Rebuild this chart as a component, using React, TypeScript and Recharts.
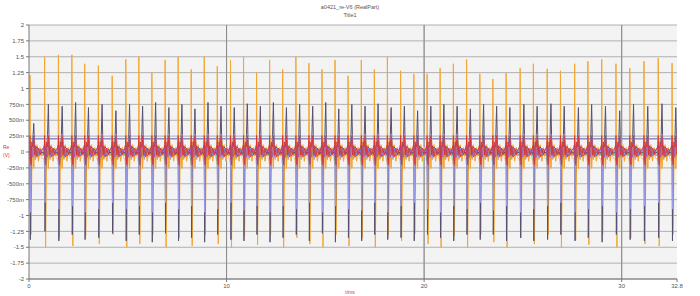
import React from 'react';
import { LineChart, Line, XAxis, YAxis, CartesianGrid, ReferenceLine } from 'recharts';

// time of each spike burst (ms)
const spikeTimes = [
  0.05, 0.79, 1.49, 2.17, 2.82, 3.51, 4.21, 4.90,
  5.56, 6.22, 6.89, 7.55, 8.21, 8.87, 9.53, 10.20, 10.86, 11.52,
  12.18, 12.84, 13.51, 14.17, 14.83, 15.49, 16.15, 16.82, 17.48, 18.14,
  18.81, 19.48, 20.15, 20.81, 21.48, 22.15, 22.82, 23.48, 24.15, 24.86,
  25.53, 26.23, 26.90, 27.62, 28.29, 28.99, 29.71, 30.41, 31.13, 31.85, 32.55,
];

// per-burst extremes
const orangeTop = [
  1.21, 1.50, 1.53, 1.53, 1.39, 1.36, 1.20, 1.46,
  1.50, 1.25, 1.45, 1.50, 1.30, 1.50, 1.35, 1.45, 1.50, 1.25,
  1.45, 1.30, 1.50, 1.40, 1.30, 1.45, 1.20, 1.45, 1.30, 1.50,
  1.28, 1.23, 1.23, 1.32, 1.39, 1.46, 1.23, 1.15, 1.24, 1.32,
  1.39, 1.31, 1.28, 1.39, 1.43, 1.46, 1.39, 1.32, 1.43, 1.48, 1.40,
];
const orangeBottom = [
  -1.30, -1.50, -1.35, -1.48, -1.32, -1.45, -1.30, -1.50,
  -1.45, -1.30, -1.50, -1.35, -1.48, -1.30, -1.45, -1.50, -1.32, -1.46,
  -1.30, -1.50, -1.35, -1.45, -1.50, -1.30, -1.48, -1.35, -1.50, -1.30,
  -1.40, -1.29, -1.45, -1.50, -1.32, -1.50, -1.30, -1.42, -1.50, -1.35,
  -1.45, -1.30, -1.50, -1.38, -1.46, -1.30, -1.50, -1.35, -1.45, -1.48, -1.30,
];
const navyTop = [
  0.45, 0.75, 0.72, 0.78, 0.70, 0.75, 0.65, 0.75,
  0.72, 0.78, 0.70, 0.75, 0.68, 0.78, 0.72, 0.70, 0.76, 0.72,
  0.78, 0.70, 0.75, 0.72, 0.78, 0.68, 0.75, 0.72, 0.76, 0.70,
  0.72, 0.65, 0.72, 0.75, 0.72, 0.68, 0.75, 0.72, 0.70, 0.75,
  0.72, 0.76, 0.72, 0.70, 0.75, 0.72, 0.65, 0.75, 0.72, 0.76, 0.70,
];
const navyBottom = [
  -1.38, -1.25, -1.40, -1.30, -1.38, -1.35, -1.28, -1.40,
  -1.30, -1.42, -1.28, -1.40, -1.35, -1.42, -1.30, -1.38, -1.40, -1.30,
  -1.42, -1.35, -1.30, -1.40, -1.28, -1.42, -1.35, -1.40, -1.30, -1.38,
  -1.35, -1.40, -1.30, -1.35, -1.40, -1.30, -1.38, -1.30, -1.40, -1.35,
  -1.40, -1.38, -1.30, -1.40, -1.35, -1.42, -1.30, -1.38, -1.40, -1.35, -1.40,
];
const blueBottom = [
  -0.95, -0.80, -0.90, -0.85, -0.95, -0.90, -0.80, -0.90,
  -0.85, -0.95, -0.80, -0.90, -0.85, -0.95, -0.90, -0.80, -0.92, -0.85,
  -0.95, -0.85, -0.90, -0.80, -0.95, -0.85, -0.90, -0.92, -0.80, -0.95,
  -0.85, -0.80, -0.90, -0.95, -0.85, -0.90, -0.80, -0.92, -0.85, -0.95,
  -0.90, -0.85, -0.80, -0.95, -0.90, -0.85, -0.95, -0.90, -0.85, -0.80, -0.90,
];

// shape of one burst: offsets (ms) from the spike time and the small ripple of each trace
const phaseOffsets = [-0.06, -0.01, 0, 0.02, 0.05, 0.09, 0.14, 0.19, 0.23, 0.28, 0.35, 0.43, 0.51, 0.58];
const orangeShape = [0.05, 0.12, 0, 0, 0, -0.32, 0.2, -0.26, 0.16, -0.12, 0.1, -0.14, 0.06, -0.06];
const navyShape = [0.0, -0.05, 0.1, 0, -0.3, 0.05, 0.16, 0, 0.1, -0.08, 0.08, -0.06, 0.04, -0.02];
const blueShape = [0.02, 0.06, 0.0, 0, -0.1, 0.05, 0.14, 0.28, 0.02, -0.1, 0.06, -0.05, 0.03, 0.0];
const redShape = [0.05, 0.12, 0.26, -0.1, -0.2, 0.16, 0.08, 0.26, -0.05, 0.1, -0.08, 0.06, -0.05, 0.03];
const greenShape = [-0.05, 0.0, -0.14, 0.12, 0.05, -0.1, 0.12, -0.12, 0.08, -0.05, 0.06, -0.04, 0.03, -0.05];
const purpleShape = [0.06, -0.04, 0.16, -0.12, 0.08, 0.1, -0.08, 0.18, 0.06, -0.05, 0.03, 0.06, -0.03, 0.04];
const peachShape = [-0.1, -0.2, 0.26, -0.3, 0.2, -0.24, 0.16, -0.24, 0.2, -0.1, 0.12, -0.15, 0.08, -0.1];

const xTicks = [0, 10, 20, 30, 32.8];
const yTicks = [2, 1.75, 1.5, 1.25, 1, 0.75, 0.5, 0.25, 0, -0.25, -0.5, -0.75, -1, -1.25, -1.5, -1.75, -2];

const data: any[] = [];
spikeTimes.forEach((t, k) => {
  phaseOffsets.forEach((dt, i) => {
    const x = +(t + dt).toFixed(3);
    if (x < 0 || x > 32.8) return;
    data.push({
      x,
      orange: i === 2 ? orangeTop[k] : i === 4 ? orangeBottom[k] : orangeShape[i],
      navy: i === 3 ? navyBottom[k] : i === 7 ? navyTop[k] : navyShape[i],
      blue: i === 3 ? blueBottom[k] : blueShape[i],
      red: redShape[i],
      green: greenShape[i],
      purple: purpleShape[i],
      peach: peachShape[i],
    });
  });
});

const fmtY = (v: number) => {
  if (v === 0) return '0';
  if (Math.abs(v) >= 1) return String(v);
  return `${Math.round(v * 1000)}m`;
};

const tickStyle = { fill: '#555', fontSize: 6, fontFamily: 'Liberation Sans, Arial, sans-serif' };

// draw order: ripple under the spikes, a couple of traces on top
const series = [
  { key: 'peach', color: '#f7c48c', w: 1 },
  { key: 'green', color: '#4aa552', w: 0.9 },
  { key: 'orange', color: '#f3a630', w: 1 },
  { key: 'navy', color: '#57506e', w: 1 },
  { key: 'blue', color: '#9d9df2', w: 0.9 },
  { key: 'purple', color: '#a05ab8', w: 0.8 },
  { key: 'red', color: '#d9302a', w: 0.8 },
];

export default function App() {
  return (
    <div style={{ position: 'absolute', left: 0, top: 0, width: 700, height: 296, background: '#fff',
      fontFamily: 'Liberation Sans, Arial, sans-serif' }}>
      <div style={{ position: 'absolute', top: 3, left: 0, width: 700, textAlign: 'center', fontSize: 5.5, color: '#555', lineHeight: '8px' }}>
        a0421_re-V6 (RealPart)<br />Title1
      </div>
      <div style={{ position: 'absolute', left: 3, top: 143, fontSize: 5, color: '#e03030', lineHeight: '8px' }}>
        Re<br />(V)
      </div>
      <div style={{ position: 'absolute', left: 0, top: 289, width: 700, textAlign: 'center', fontSize: 5, color: '#e03030' }}>
        t/ms
      </div>
      <LineChart width={700} height={296} data={data} margin={{ top: 25, right: 23, left: 0, bottom: 0 }}>
        <CartesianGrid fill="#f3f3f3" stroke="#b0b0b0" horizontalValues={yTicks} verticalValues={[10, 20, 30]} />
        <XAxis dataKey="x" type="number" domain={[0, 32.8]} ticks={xTicks} height={17}
          tick={tickStyle} tickFormatter={(v: number) => String(v)} tickSize={3}
          axisLine={{ stroke: '#777' }} tickLine={{ stroke: '#777' }} allowDataOverflow />
        <YAxis type="number" domain={[-2, 2]} ticks={yTicks} width={29} interval={0}
          tick={tickStyle} tickFormatter={fmtY} tickSize={3}
          axisLine={{ stroke: '#777' }} tickLine={{ stroke: '#777' }} allowDataOverflow />
        <ReferenceLine x={10} stroke="#8a8a8a" />
        <ReferenceLine x={20} stroke="#8a8a8a" />
        <ReferenceLine x={30} stroke="#8a8a8a" />
        <ReferenceLine y={0.21} stroke="#8c8cc8" strokeWidth={1.5} />
        {series.map(s => (
          <Line key={s.key} dataKey={s.key} type="linear" stroke={s.color} strokeWidth={s.w}
            dot={false} activeDot={false} isAnimationActive={false} />
        ))}
      </LineChart>
    </div>
  );
}
